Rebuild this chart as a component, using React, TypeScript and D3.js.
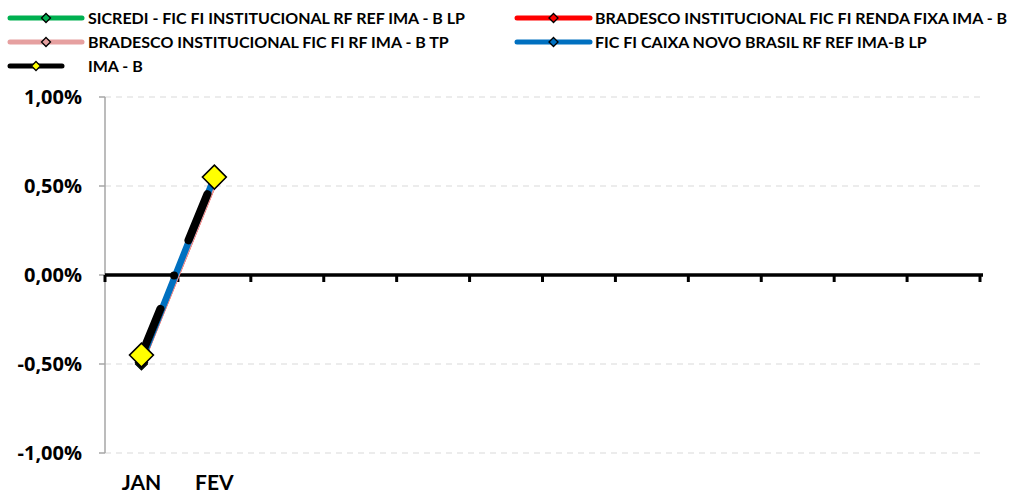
import React from "react";
import * as d3 from "d3";

const months = ["JAN","FEV","MAR","ABR","MAI","JUN","JUL","AGO","SET","OUT","NOV","DEZ"];
const monthLabels = ["JAN","FEV","","","","","","","","","",""];
const sicredi = [-0.50, 0.53];
const bradescoRF = [-0.49, 0.52];
const bradescoTP = [-0.49, 0.52];
const caixa = [-0.48, 0.55];
const imab = [-0.45, 0.55];
const yTicks = [1.0, 0.5, 0.0, -0.5, -1.0];

const seriesNames = [
  "SICREDI - FIC FI INSTITUCIONAL RF REF IMA - B LP",
  "BRADESCO INSTITUCIONAL FIC FI RENDA FIXA IMA - B",
  "BRADESCO INSTITUCIONAL FIC FI RF IMA - B TP",
  "FIC FI CAIXA NOVO BRASIL RF REF IMA-B LP",
  "IMA - B",
];
const seriesValues = [sicredi, bradescoRF, bradescoTP, caixa, imab];
const seriesColors = ["#00b050", "#ff0000", "#e6a0a0", "#0070c0", "#000000"];

const FONT = "Lato, 'Open Sans', sans-serif";
const TICKFONT = "'Open Sans', Lato, sans-serif";

export default function App() {
  const W = 1013, H = 497;
  const x = d3.scaleBand<string>().domain(months).range([105, 980]);
  const y = d3.scaleLinear().domain([-1, 1]).range([453, 97]);
  const fmt = (v: number) => v.toFixed(2).replace(".", ",") + "%";
  const line = d3.line<number>().x((_, i) => x(months[i])! + x.bandwidth() / 2).y(v => y(v));
  const diamond = (cx: number, cy: number, r: number) => `M${cx},${cy - r}L${cx + r},${cy}L${cx},${cy + r}L${cx - r},${cy}Z`;

  const legendPos = [
    { x: 10, y: 18, w: 72 },
    { x: 517, y: 18, w: 73 },
    { x: 10, y: 42, w: 72 },
    { x: 517, y: 42, w: 73 },
    { x: 10, y: 66, w: 52 },
  ];
  const legendTextX = [88, 595, 88, 595, 88];

  return (
    <svg width={W} height={H} style={{ position: "absolute", left: 0, top: 0, background: "#fff" }}>
      {/* gridlines */}
      {yTicks.filter(t => t !== 0).map(t => (
        <line key={"g" + t} x1={105} x2={985} y1={y(t)} y2={y(t)} stroke="#d9d9d9" strokeWidth={1.2} strokeDasharray="6,5" />
      ))}
      {/* y axis */}
      <line x1={105} x2={105} y1={97} y2={453} stroke="#a6a6a6" strokeWidth={1.5} />
      {yTicks.map(t => (
        <g key={"t" + t}>
          <line x1={99} x2={105} y1={y(t)} y2={y(t)} stroke="#a6a6a6" strokeWidth={1.5} />
          <text x={82} y={y(t)} dy="0.36em" textAnchor="end" fontFamily={TICKFONT} fontWeight="bold" fontSize={20} fill="#000">{fmt(t)}</text>
        </g>
      ))}
      {/* zero axis */}
      <line x1={105} x2={983} y1={y(0)} y2={y(0)} stroke="#000" strokeWidth={3.5} />
      {d3.range(months.length + 1).map(i => {
        const xx = i < months.length ? x(months[i])! : 980;
        return <line key={"xt" + i} x1={xx} x2={xx} y1={y(0)} y2={y(0) + 7} stroke="#000" strokeWidth={3} />;
      })}
      {monthLabels.map((m, i) => m ? (
        <text key={"m" + i} x={x(months[i])! + x.bandwidth() / 2} y={490} textAnchor="middle" fontFamily={FONT} fontWeight="bold" fontSize={21} fill="#000">{m}</text>
      ) : null)}
      {/* series lines */}
      {seriesValues.map((vals, si) => si < 4 ? (
        <path key={"l" + si} d={line(vals)!} fill="none" stroke={seriesColors[si]} strokeWidth={si === 3 ? 6.5 : 2} strokeLinecap="round"
          transform={si === 0 ? "translate(-1,1)" : si === 1 || si === 2 ? "translate(2,0)" : undefined} />
      ) : null)}
      {seriesValues.slice(0, 4).map((vals, si) => vals.map((v, i) => (
        <path key={"mk" + si + i} d={diamond(x(months[i])! + x.bandwidth() / 2, y(v), 6)} fill={seriesColors[si]} stroke="#000" strokeWidth={1.2} />
      )))}
      <path d={line(imab)!} fill="none" stroke="#000" strokeWidth={8} strokeLinecap="round" strokeDasharray="50,36,0,38" />
      {imab.map((v, i) => (
        <path key={"im" + i} d={diamond(x(months[i])! + x.bandwidth() / 2, y(v), 12)} fill="#ffff00" stroke="#000" strokeWidth={1.5} />
      ))}
      {/* legend */}
      {seriesNames.map((n, si) => {
        const p = legendPos[si];
        const cx = p.x + p.w / 2;
        const isIma = si === 4;
        return (
          <g key={"lg" + si}>
            <line x1={p.x} x2={p.x + p.w} y1={p.y} y2={p.y} stroke={seriesColors[si]} strokeWidth={5} strokeLinecap="round" />
            <path d={diamond(cx, p.y, 4.5)} fill={isIma ? "#ffff00" : seriesColors[si]} stroke="#000" strokeWidth={1.3} />
            <text x={legendTextX[si]} y={p.y} dy="0.36em" fontFamily={FONT} fontWeight="bold" fontSize={16} fill="#000">{n}</text>
          </g>
        );
      })}
    </svg>
  );
}
